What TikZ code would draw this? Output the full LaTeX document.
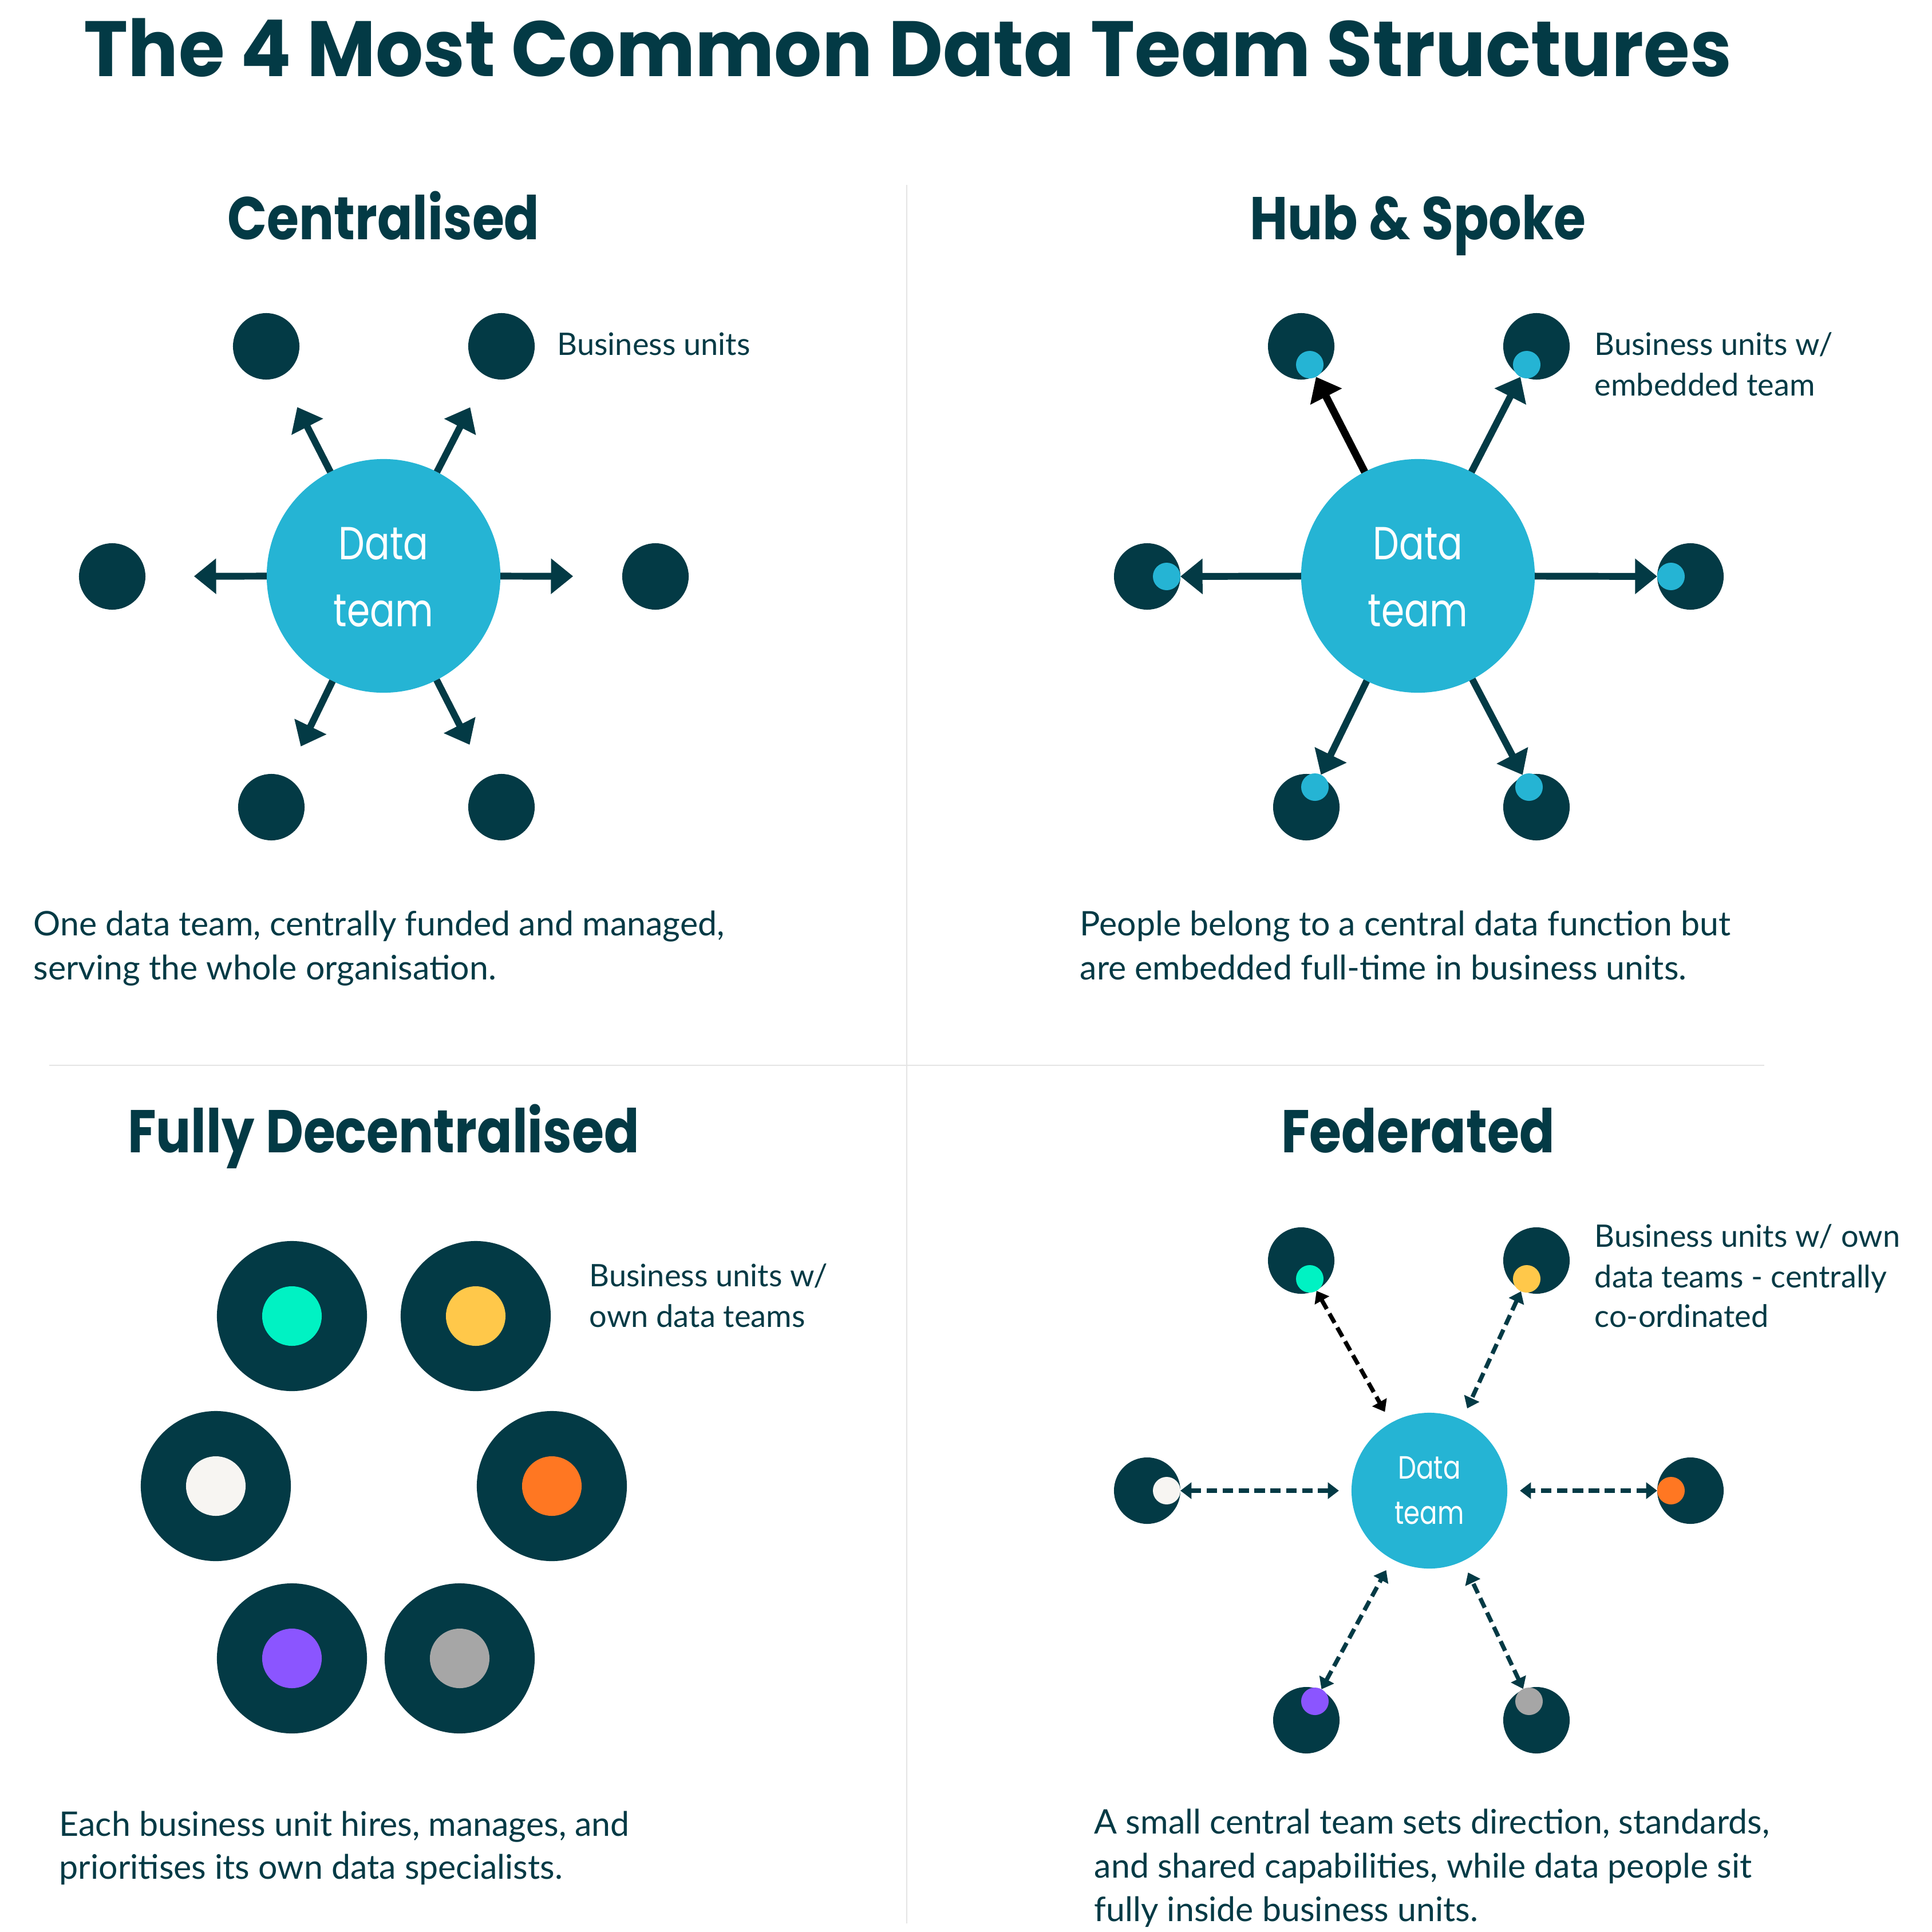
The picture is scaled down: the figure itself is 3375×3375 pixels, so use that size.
\documentclass[tikz,border=0pt]{standalone}
\usepackage{fontspec}
\setmainfont{Lato}
\newfontfamily\titlefont{Poppins}[FakeStretch=0.953]
\newfontfamily\headfont{Poppins}[FakeStretch=0.86]
\newfontfamily\innerfont{Poppins}[FakeStretch=0.8]
\usetikzlibrary{arrows.meta,calc}
\definecolor{ink}{HTML}{033A45}
\definecolor{cyanT}{HTML}{25B4D4}
\definecolor{cgreen}{HTML}{00F2C3}
\definecolor{cyellow}{HTML}{FFC84A}
\definecolor{cwhite}{HTML}{F7F5F2}
\definecolor{corange}{HTML}{FF7722}
\definecolor{cpurple}{HTML}{8B55FF}
\definecolor{cgrey}{HTML}{A6A6A6}
\definecolor{divider}{HTML}{E4E4E4}
\begin{document}
\begin{tikzpicture}[x=0.01cm,y=-0.01cm,
  titletxt/.style={anchor=base west,inner sep=0,text=ink,font=\titlefont\bfseries\fontsize{39}{46}\selectfont},
  headtxt/.style={anchor=base,inner sep=0,text=ink,font=\headfont\bfseries\fontsize{30}{36}\selectfont},
  labeltxt/.style={anchor=base west,inner sep=0,text=ink,font=\fontsize{15.4}{20}\selectfont},
  desctxt/.style={anchor=base west,inner sep=0,text=ink,font=\fontsize{16.8}{22}\selectfont},
  hubbig/.style={circle,fill=cyanT,minimum size=4.08cm,inner sep=0,outer sep=0},
  hubsmall/.style={circle,fill=cyanT,minimum size=2.72cm,inner sep=0,outer sep=0},
  bigtxt/.style={anchor=base,inner sep=0,text=white,font=\innerfont\fontsize{23}{28}\selectfont},
  smalltxt/.style={anchor=base,inner sep=0,text=white,font=\innerfont\fontsize{16}{20}\selectfont},
  unit/.style={circle,fill=ink,minimum size=1.16cm,inner sep=0,outer sep=0},
  emb/.style={circle,minimum size=0.48cm,inner sep=0,outer sep=0},
  bigunit/.style={circle,fill=ink,minimum size=2.62cm,inner sep=0,outer sep=0},
  inner/.style={circle,minimum size=1.04cm,inner sep=0,outer sep=0},
  arr/.style={draw=ink,line width=3.4pt,line join=round,-{Triangle[length=11pt,width=17pt]}},
  blackarr/.style={draw=black,line width=3.7pt,line join=round,-{Triangle[length=11pt,width=17pt]}},
  darr/.style={draw=ink,line width=2.1pt,dash pattern=on 5.2pt off 2.7pt,{Triangle[length=5.5pt,width=8pt]}-{Triangle[length=5.5pt,width=8pt]}},
  divline/.style={draw=divider,line width=0.7pt}
]
\useasboundingbox (0,0) rectangle (3375,3375);
\fill[white] (0,0) rectangle (3375,3375);

% dividers
\coordinate (v1) at (1584,323);
\coordinate (v2) at (1584,3360);
\coordinate (h1) at (86,1861);
\coordinate (h2) at (3082,1861);
\draw[divline] (v1) -- (v2);
\draw[divline] (h1) -- (h2);

% title
\node[titletxt] (title) at (146,133) {The 4 Most Common Data Team Structures};

% headings
\node[headtxt] (hc) at (670,418) {Centralised};
\node[headtxt] (hh) at (2477,418) {Hub \& Spoke};
\node[headtxt] (hd) at (670,2013) {Fully Decentralised};
\node[headtxt] (hf) at (2477,2013) {Federated};

% ---------- Centralised ----------
\node[hubbig] (C) at (670,1006) {};
\node[bigtxt] (Ct1) at (670,977) {Data};
\node[bigtxt] (Ct2) at (670,1094) {team};
\node[unit] (C1) at (465,605) {};
\node[unit] (C2) at (876,605) {};
\node[unit] (C3) at (196,1007) {};
\node[unit] (C4) at (1145,1007) {};
\node[unit] (C5) at (474,1410) {};
\node[unit] (C6) at (876,1410) {};
\foreach \i in {1,...,6}{
  \coordinate (Ce\i) at ($(C)!3.31cm!(C\i)$);
  \draw[arr] (C) -- (Ce\i);
}
\node[labeltxt] (Cl) at (973,620) {Business units};
\node[desctxt] (Cd1) at (58,1634) {One data team, centrally funded and managed,};
\node[desctxt] (Cd2) at (58,1711) {serving the whole organisation.};

% ---------- Hub & Spoke ----------
\node[hubbig] (H) at (2477,1006) {};
\node[bigtxt] (Ht1) at (2477,977) {Data};
\node[bigtxt] (Ht2) at (2477,1094) {team};
\node[unit] (H1) at (2273,605) {};
\node[unit] (H2) at (2684,605) {};
\node[unit] (H3) at (2004,1007) {};
\node[unit] (H4) at (2953,1007) {};
\node[unit] (H5) at (2282,1410) {};
\node[unit] (H6) at (2684,1410) {};
\node[emb,fill=cyanT] (He1) at (2288,637) {};
\node[emb,fill=cyanT] (He2) at (2667,637) {};
\node[emb,fill=cyanT] (He3) at (2038,1007) {};
\node[emb,fill=cyanT] (He4) at (2919,1007) {};
\node[emb,fill=cyanT] (He5) at (2297,1375) {};
\node[emb,fill=cyanT] (He6) at (2671,1375) {};
\draw[blackarr] (H) -- (He1);
\foreach \i in {2,...,6}{
  \draw[arr] (H) -- (He\i);
}
\node[labeltxt] (Hl1) at (2785,620) {Business units w/};
\node[labeltxt] (Hl2) at (2785,691) {embedded team};
\node[desctxt] (Hd1) at (1886,1634) {People belong to a central data function but};
\node[desctxt] (Hd2) at (1886,1711) {are embedded full-time in business units.};

% ---------- Fully Decentralised ----------
\node[bigunit] (D1) at (510,2299) {};
\node[bigunit] (D2) at (831,2299) {};
\node[bigunit] (D3) at (377,2596) {};
\node[bigunit] (D4) at (964,2596) {};
\node[bigunit] (D5) at (510,2897) {};
\node[bigunit] (D6) at (803,2897) {};
\node[inner,fill=cgreen] (Di1) at (D1) {};
\node[inner,fill=cyellow] (Di2) at (D2) {};
\node[inner,fill=cwhite] (Di3) at (D3) {};
\node[inner,fill=corange] (Di4) at (D4) {};
\node[inner,fill=cpurple] (Di5) at (D5) {};
\node[inner,fill=cgrey] (Di6) at (D6) {};
\node[labeltxt] (Dl1) at (1029,2247) {Business units w/};
\node[labeltxt] (Dl2) at (1029,2318) {own data teams};
\node[desctxt] (Dd1) at (103,3207) {Each business unit hires, manages, and};
\node[desctxt] (Dd2) at (103,3282) {prioritises its own data specialists.};

% ---------- Federated ----------
\node[hubsmall] (F) at (2497,2604) {};
\node[smalltxt] (Ft1) at (2497,2583) {Data};
\node[smalltxt] (Ft2) at (2497,2662) {team};
\node[unit] (F1) at (2273,2202) {};
\node[unit] (F2) at (2684,2202) {};
\node[unit] (F3) at (2004,2604) {};
\node[unit] (F4) at (2953,2604) {};
\node[unit] (F5) at (2282,3005) {};
\node[unit] (F6) at (2684,3005) {};
\node[emb,fill=cgreen] (Fe1) at (2288,2234) {};
\node[emb,fill=cyellow] (Fe2) at (2667,2234) {};
\node[emb,fill=cwhite] (Fe3) at (2038,2604) {};
\node[emb,fill=corange] (Fe4) at (2919,2604) {};
\node[emb,fill=cpurple] (Fe5) at (2297,2972) {};
\node[emb,fill=cgrey] (Fe6) at (2671,2972) {};
\draw[darr,draw=black,shorten >=0.22cm] (Fe1) -- (F);
\foreach \i in {2,...,6}{
  \draw[darr,shorten >=0.22cm] (Fe\i) -- (F);
}
\node[labeltxt] (Fl1) at (2785,2178) {Business units w/ own};
\node[labeltxt] (Fl2) at (2785,2249) {data teams - centrally};
\node[labeltxt] (Fl3) at (2785,2318) {co-ordinated};
\node[desctxt] (Fd1) at (1911,3203) {A small central team sets direction, standards,};
\node[desctxt] (Fd2) at (1911,3280) {and shared capabilities, while data people sit};
\node[desctxt] (Fd3) at (1911,3356) {fully inside business units.};
\end{tikzpicture}
\end{document}
